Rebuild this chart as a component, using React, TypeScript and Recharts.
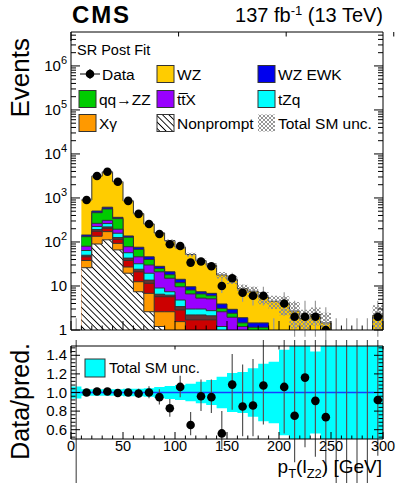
import React from "react";
import { ComposedChart, Area, Scatter, ErrorBar, XAxis, YAxis, ReferenceLine } from "recharts";

const FONT = "'Liberation Sans', Arial, Helvetica, sans-serif";

// bins: 10 GeV wide, centres
const binCenters = [15, 25, 35, 45, 55, 65, 75, 85, 95, 105, 115, 125, 135, 145, 155, 165, 175, 185, 195, 205, 215, 225, 235, 245, 255, 265, 275, 285, 295];

// post-fit yields per process (stack order, bottom -> top)
const nonprompt = [26, 90, 112, 66, 19.5, 7.4, 2.6, 1.2, 0.5, 0, 0, 0, 0, 0, 0, 0, 0, 0, 0, 0, 0, 0, 0, 0, 0, 0, 0, 0, 0];
const xgamma = [12, 45, 60, 27, 7.5, 5.1, 4.2, 1.4, 2.1, 1.55, 0.5, 0.5, 0.5, 0.3, 0.2, 0.2, 0.1, 0.1, 0.05, 0.05, 0, 0, 0, 0, 0, 0, 0, 0, 0];
const vvv = [8, 40, 33, 22, 11, 8.5, 4.7, 3.1, 3.1, 1.3, 1.2, 1.2, 1.2, 0.3, 0.2, 0.2, 0.1, 0.1, 0.05, 0.05, 0, 0, 0, 0, 0, 0, 0, 0, 0];
const vh = [4, 17, 15, 11, 5, 3, 2.1, 0.8, 0.5, 0.55, 0.5, 0.5, 0.4, 0.2, 0.2, 0.2, 0.1, 0.1, 0.05, 0.05, 0, 0, 0, 0, 0, 0, 0, 0, 0];
const tzq = [14, 33, 42, 32, 14, 8, 5.9, 2.5, 1.2, 1.4, 0.8, 0.8, 0.65, 0.4, 0.2, 0.2, 0.1, 0.1, 0.05, 0.05, 0.05, 0.05, 0.05, 0.05, 0, 0, 0, 0, 0.05];
const ttx = [16, 40, 48, 37, 21, 14, 10.5, 12, 7.6, 4.8, 3.6, 2.3, 2.35, 1.4, 1.15, 0.4, 0.2, 0.2, 0.1, 0.1, 0.1, 0.1, 0.1, 0.1, 0, 0, 0, 0, 0.1];
const qqzz = [52, 198, 252, 144, 50, 22, 10, 4, 3, 2.3, 1.5, 1.3, 0.9, 0.5, 0.45, 0.25, 0.55, 0.55, 0.2, 0.1, 0.1, 0.1, 0.1, 0.1, 0.05, 0.05, 0.05, 0.05, 0.1];
const wzewk = [12, 42, 55, 24, 9, 8, 6, 3, 3, 2.3, 1.5, 0.8, 0.8, 0.8, 0.55, 0.45, 0.3, 0.3, 0.3, 0.2, 0.15, 0.15, 0.15, 0.1, 0.05, 0.05, 0.05, 0.05, 0.15];
const wz = [756, 2625, 3293, 1987, 723, 364, 211, 132, 86, 61.8, 42.4, 30.1, 22.7, 13.9, 11.05, 6.8, 6.15, 4.15, 3.7, 3.4, 2.3, 1.4, 1.85, 1.1, 0.3, 0.3, 0.3, 0.3, 1.75];

// relative total SM uncertainty, bins 0-10 ... 290-300
const uncEdges = [0, 10, 20, 30, 40, 50, 60, 70, 80, 90, 100, 110, 120, 130, 140, 150, 160, 170, 180, 190, 200, 210, 220, 230, 240, 250, 260, 270, 280, 290];
const relUnc = [0.065, 0.035, 0.035, 0.035, 0.035, 0.04, 0.04, 0.045, 0.06, 0.07, 0.08, 0.095, 0.115, 0.135, 0.17, 0.21, 0.22, 0.26, 0.31, 0.33, 0.46, 0.6, 0.6, 0.44, 0.7, 0.7, 0.7, 0.7, 0.7, 0.7];

// observed data
const dataX = [15, 25, 35, 45, 55, 65, 75, 85, 95, 105, 115, 125, 135, 145, 155, 165, 175, 185, 205, 215, 225, 235, 245, 295];
const dataVals = [900, 3160, 3950, 2340, 860, 435, 257, 152, 89, 81, 34, 36, 28, 10, 15, 7, 6, 6, 4, 2, 2, 2, 1, 2];
const dataErrLo = [30, 56, 63, 48, 29, 21, 16, 12.3, 9.4, 9, 5.8, 6, 5.3, 3.1, 3.8, 2.6, 2.4, 2.4, 1.9, 1.3, 1.3, 1.3, 0.83, 1.3];
const dataErrHi = [30, 56, 63, 48, 29, 21, 16, 12.3, 9.4, 9, 6.9, 7, 6.3, 4.3, 4.9, 3.8, 3.6, 3.6, 3.2, 2.6, 2.6, 2.6, 2.3, 2.6];
const emptyX = [5, 195, 255, 265, 275, 285];

// data / prediction
const ratioVals = [1.0, 1.01, 1.01, 0.995, 1.0, 0.99, 1.0, 0.95, 0.83, 1.06, 0.65, 0.96, 0.95, 0.56, 1.085, 0.85, 0.86, 1.075, 1.06, 0.75, 1.16, 0.91, 0.735, 0.92];
const ratioErrLo = [0.035, 0.02, 0.02, 0.022, 0.035, 0.048, 0.063, 0.08, 0.09, 0.11, 0.11, 0.16, 0.17, 0.17, 0.27, 0.32, 0.33, 0.42, 0.5, 0.5, 0.75, 0.6, 0.6, 0.6];
const ratioErrHi = [0.035, 0.02, 0.02, 0.022, 0.035, 0.05, 0.066, 0.085, 0.1, 0.12, 0.14, 0.18, 0.19, 0.24, 0.33, 0.45, 0.5, 0.55, 0.8, 1.0, 1.5, 1.2, 1.7, 1.2];
const ratioEmptyX = [5, 255, 265, 275, 285];

const xTicks = [0, 10, 20, 30, 40, 50, 60, 70, 80, 90, 100, 110, 120, 130, 140, 150, 160, 170, 180, 190, 200, 210, 220, 230, 240, 250, 260, 270, 280, 290, 300];
const decades = [0, 1, 2, 3, 4, 5, 6];
const ratioMajor = [0.6, 0.8, 1.0, 1.2, 1.4];

const Y_MAX = 5.9e6;
const logTicks: number[] = [];
decades.forEach((d) => {
  for (let m = 1; m <= 9; m++) {
    const v = m * Math.pow(10, d);
    if (v <= Y_MAX) logTicks.push(v);
  }
});
const ratioTicks: number[] = [];
for (let k = 13; k <= 37; k++) ratioTicks.push(+(k * 0.04).toFixed(2));

const layers = [
  { key: "np", vals: nonprompt, fill: "url(#hatchNP)" },
  { key: "xg", vals: xgamma, fill: "#ff9900" },
  { key: "vvv", vals: vvv, fill: "#cc0000" },
  { key: "vh", vals: vh, fill: "#663333" },
  { key: "tzq", vals: tzq, fill: "#00ffff" },
  { key: "ttx", vals: ttx, fill: "#9900ff" },
  { key: "zz", vals: qqzz, fill: "#00cc00" },
  { key: "ewk", vals: wzewk, fill: "#0000ee" },
  { key: "wz", vals: wz, fill: "#ffcc00" },
];

// histogram rows at left bin edges (stepAfter), plus closing edge at 300
const histRows: any[] = binCenters.map((c, i) => {
  const row: any = { x: c - 5 };
  let sum = 0;
  layers.forEach((l) => {
    sum += l.vals[i];
    row[l.key] = Math.max(sum, 1e-3);
  });
  const e = relUnc[uncEdges.indexOf(c - 5)];
  row.band = [Math.max(sum * (1 - e), 1e-3), Math.max(sum * (1 + e), 1e-3)];
  return row;
});
histRows.push({ ...histRows[histRows.length - 1], x: 300 });

const dataPts = dataX.map((x, i) => ({ x, y: dataVals[i], err: [dataErrLo[i], dataErrHi[i]] }));
const emptyPts = emptyX.map((x) => ({ x, y: 1, err: [0, 0.84] }));

const bandRows: any[] = uncEdges.map((x, i) => ({ x, band: [1 - relUnc[i], 1 + relUnc[i]] }));
bandRows.push({ ...bandRows[bandRows.length - 1], x: 300 });
const ratioPts = dataX.map((x, i) => ({ x, y: ratioVals[i], err: [ratioErrLo[i], ratioErrHi[i]] }));
const ratioEmptyPts = ratioEmptyX.map((x) => ({ x, y: 0, err: [0, 3] }));

const isDecade = (v: number) => {
  const e = Math.round(Math.log10(v));
  return Math.abs(v - Math.pow(10, e)) < 1e-6 * v;
};

function LogTickLeft(p: any) {
  const { x, y, payload } = p;
  const v = payload.value;
  const major = isDecade(v);
  const e = Math.round(Math.log10(v));
  return (
    <g>
      <line x1={x} x2={x + (major ? 9 : 5)} y1={y} y2={y} stroke="#000" strokeWidth={1} />
      {major && (
        <text x={x - 4} y={y + 5} textAnchor="end" fontSize={15} fontFamily={FONT} fill="#000">
          {e === 0 ? "1" : e === 1 ? "10" : (
            <>
              10<tspan dy={-7} fontSize={11}>{e}</tspan>
            </>
          )}
        </text>
      )}
    </g>
  );
}

function LogTickRight(p: any) {
  const { x, y, payload } = p;
  const major = isDecade(payload.value);
  return <line x1={x} x2={x - (major ? 9 : 5)} y1={y} y2={y} stroke="#000" strokeWidth={1} />;
}

function XTickTop(p: any) {
  const { x, y, payload } = p;
  const major = payload.value % 50 === 0;
  return <line x1={x} x2={x} y1={y} y2={y + (major ? 9 : 4.5)} stroke="#000" strokeWidth={1} />;
}

function XTickBottomMain(p: any) {
  const { x, y, payload } = p;
  const major = payload.value % 50 === 0;
  return <line x1={x} x2={x} y1={y} y2={y - (major ? 9 : 4.5)} stroke="#000" strokeWidth={1} />;
}

function XTickBottomRatio(p: any) {
  const { x, y, payload } = p;
  const major = payload.value % 50 === 0;
  return (
    <g>
      <line x1={x} x2={x} y1={y} y2={y - (major ? 7 : 3.5)} stroke="#000" strokeWidth={1} />
      {major && (
        <text x={x} y={y + 12} textAnchor="middle" fontSize={14.5} fontFamily={FONT} fill="#000">
          {payload.value}
        </text>
      )}
    </g>
  );
}

function XTickTopRatio(p: any) {
  const { x, y, payload } = p;
  const major = payload.value % 50 === 0;
  return <line x1={x} x2={x} y1={y} y2={y + (major ? 7 : 3.5)} stroke="#000" strokeWidth={1} />;
}

const isRatioMajor = (v: number) => ratioMajor.some((m) => Math.abs(m - v) < 1e-6);

function RatioTickLeft(p: any) {
  const { x, y, payload } = p;
  const major = isRatioMajor(payload.value);
  return (
    <g>
      <line x1={x} x2={x + (major ? 9 : 4.5)} y1={y} y2={y} stroke="#000" strokeWidth={1} />
      {major && (
        <text x={x - 4} y={y + 5} textAnchor="end" fontSize={15} fontFamily={FONT} fill="#000">
          {payload.value.toFixed(1)}
        </text>
      )}
    </g>
  );
}

function RatioTickRight(p: any) {
  const { x, y, payload } = p;
  const major = isRatioMajor(payload.value);
  return <line x1={x} x2={x - (major ? 9 : 4.5)} y1={y} y2={y} stroke="#000" strokeWidth={1} />;
}

const dot = (r: number) => (p: any) => <circle cx={p.cx} cy={p.cy} r={r} fill="#000" />;
const noShape = () => <g />;

const legendRows = [
  [
    { label: "Data", kind: "data" },
    { label: "WZ", fill: "#ffcc00" },
    { label: "WZ EWK", fill: "#0000ee" },
  ],
  [
    { label: "qq\u2192ZZ", fill: "#00cc00" },
    { label: "tt\u0305X", fill: "#9900ff" },
    { label: "tZq", fill: "#00ffff" },
  ],
  [
    { label: "X\u03b3", fill: "#ff9900" },
    { label: "Nonprompt", fill: "url(#hatchNP)" },
    { label: "Total SM unc.", fill: "url(#uncHatch)", noBorder: true },
  ],
];
const legendColX = [79, 157, 258];
const legendRowY = [74, 99, 123];

export default function App() {
  return (
    <div style={{ position: "absolute", left: 0, top: 0, width: 399, height: 483, background: "#fff", fontFamily: FONT }}>
      <svg width={0} height={0} style={{ position: "absolute" }}>
        <defs>
          <pattern id="hatchNP" width={4.5} height={4.5} patternUnits="userSpaceOnUse" patternTransform="rotate(-45)">
            <rect width={4.5} height={4.5} fill="#fff" />
            <line x1={2.25} y1={0} x2={2.25} y2={4.5} stroke="#000" strokeWidth={0.9} />
          </pattern>
          <pattern id="uncHatch" width={4} height={4} patternUnits="userSpaceOnUse">
            <path d="M0,0 L4,4 M4,0 L0,4" stroke="#8a8a8a" strokeWidth={0.9} />
          </pattern>
        </defs>
      </svg>

      <div style={{ position: "absolute", left: 0, top: 0 }}>
        <ComposedChart width={399} height={340} data={histRows} margin={{ top: 31, right: 15, bottom: 9, left: 0 }}>
          <XAxis dataKey="x" type="number" domain={[0, 300]} allowDataOverflow ticks={xTicks} interval={0}
            height={1} tickSize={0} tickMargin={0} tickLine={false} tick={(p: any) => <XTickBottomMain {...p} />} axisLine={{ stroke: "#000" }} />
          <XAxis xAxisId="t" orientation="top" type="number" domain={[0, 300]} allowDataOverflow ticks={xTicks} interval={0}
            height={1} tickSize={0} tickMargin={0} tickLine={false} tick={(p: any) => <XTickTop {...p} />} axisLine={{ stroke: "#000" }} />
          <YAxis scale="log" type="number" domain={[1, Y_MAX]} allowDataOverflow ticks={logTicks} interval={0}
            width={71} tickSize={0} tickMargin={0} tickLine={false} tick={(p: any) => <LogTickLeft {...p} />} axisLine={{ stroke: "#000" }} />
          <YAxis yAxisId="r" orientation="right" scale="log" type="number" domain={[1, Y_MAX]} allowDataOverflow ticks={logTicks} interval={0}
            width={1} tickSize={0} tickMargin={0} tickLine={false} tick={(p: any) => <LogTickRight {...p} />} axisLine={{ stroke: "#000" }} />
          {[...layers].reverse().map((l) => (
            <Area key={l.key} type="stepAfter" dataKey={l.key} fill={l.fill} fillOpacity={1} stroke="#333" strokeWidth={1}
              baseValue={1} isAnimationActive={false} dot={false} activeDot={false} />
          ))}
          <Area type="stepAfter" dataKey="band" fill="url(#uncHatch)" fillOpacity={1} stroke="none" isAnimationActive={false} dot={false} activeDot={false} />
          <Scatter data={emptyPts} dataKey="y" shape={noShape} isAnimationActive={false}>
            <ErrorBar dataKey="err" direction="y" width={0} stroke="#999" strokeWidth={1.2} />
          </Scatter>
          <Scatter data={dataPts} dataKey="y" shape={dot(4.3)} isAnimationActive={false}>
            <ErrorBar dataKey="err" direction="y" width={0} stroke="#999" strokeWidth={1.2} />
          </Scatter>
        </ComposedChart>
      </div>

      <div style={{ position: "absolute", left: 0, top: 340 }}>
        <ComposedChart width={399} height={143} data={bandRows} margin={{ top: 5, right: 15, bottom: 14, left: 0 }}>
          <XAxis dataKey="x" type="number" domain={[0, 300]} allowDataOverflow ticks={xTicks} interval={0}
            height={30} tickSize={0} tickMargin={0} tickLine={false} tick={(p: any) => <XTickBottomRatio {...p} />} axisLine={{ stroke: "#000" }} />
          <XAxis xAxisId="t" orientation="top" type="number" domain={[0, 300]} allowDataOverflow ticks={xTicks} interval={0}
            height={1} tickSize={0} tickMargin={0} tickLine={false} tick={(p: any) => <XTickTopRatio {...p} />} axisLine={{ stroke: "#000" }} />
          <YAxis type="number" domain={[0.5, 1.5]} allowDataOverflow ticks={ratioTicks} interval={0}
            width={71} tickSize={0} tickMargin={0} tickLine={false} tick={(p: any) => <RatioTickLeft {...p} />} axisLine={{ stroke: "#000" }} />
          <YAxis yAxisId="r" orientation="right" type="number" domain={[0.5, 1.5]} allowDataOverflow ticks={ratioTicks} interval={0}
            width={1} tickSize={0} tickMargin={0} tickLine={false} tick={(p: any) => <RatioTickRight {...p} />} axisLine={{ stroke: "#000" }} />
          <Area type="stepAfter" dataKey="band" fill="#00ffff" fillOpacity={1} stroke="none" isAnimationActive={false} dot={false} activeDot={false} />
          <ReferenceLine y={1} stroke="#1a3cff" strokeWidth={1.5} />
          <Scatter data={ratioEmptyPts} dataKey="y" shape={noShape} isAnimationActive={false}>
            <ErrorBar dataKey="err" direction="y" width={0} stroke="#555" strokeWidth={1.2} />
          </Scatter>
          <Scatter data={ratioPts} dataKey="y" shape={dot(4.3)} isAnimationActive={false}>
            <ErrorBar dataKey="err" direction="y" width={0} stroke="#555" strokeWidth={1.2} />
          </Scatter>
        </ComposedChart>
      </div>

      <svg width={399} height={483} style={{ position: "absolute", left: 0, top: 0, pointerEvents: "none" }} fontFamily={FONT}>
        <text x={72} y={23} fontSize={24} fontWeight="bold" letterSpacing={1.8}>CMS</text>
        <text x={383} y={22} fontSize={20} textAnchor="end">
          137 fb<tspan dy={-7} fontSize={13}>-1</tspan><tspan dy={7}> (13 TeV)</tspan>
        </text>
        <text x={77} y={55} fontSize={14.5}>SR Post Fit</text>

        {legendRows.map((row, ri) =>
          row.map((item: any, ci) => {
            const x0 = legendColX[ci];
            const cy = legendRowY[ri];
            return (
              <g key={`${ri}-${ci}`}>
                {item.kind === "data" ? (
                  <g>
                    <line x1={x0 + 1} x2={x0 + 21} y1={cy} y2={cy} stroke="#000" strokeWidth={1} />
                    <line x1={x0 + 11} x2={x0 + 11} y1={cy - 5} y2={cy + 5} stroke="#000" strokeWidth={1} />
                    <circle cx={x0 + 11} cy={cy} r={4.3} fill="#000" />
                  </g>
                ) : (
                  <rect x={x0} y={cy - 8.5} width={17} height={17} fill={item.fill} stroke={item.noBorder ? "none" : "#333"} strokeWidth={1} />
                )}
                <text x={x0 + (item.kind === "data" ? 23 : 20)} y={cy + 5.5} fontSize={15.5}>
                  {item.label}
                </text>
              </g>
            );
          })
        )}

        <rect x={85} y={359} width={20} height={18} fill="#00ffff" stroke="#333" strokeWidth={1} />
        <text x={109} y={373} fontSize={15}>Total SM unc.</text>

        <text transform="translate(29,38) rotate(-90)" textAnchor="end" fontSize={26}>Events</text>
        <text transform="translate(29,343) rotate(-90)" textAnchor="end" fontSize={25}>Data/pred.</text>
        <text x={382} y={473} textAnchor="end" fontSize={19}>
          p<tspan dy={5} fontSize={13}>T</tspan><tspan dy={-5}>(l</tspan><tspan dy={5} fontSize={13}>Z2</tspan><tspan dy={-5}>) [GeV]</tspan>
        </text>
      </svg>
    </div>
  );
}
